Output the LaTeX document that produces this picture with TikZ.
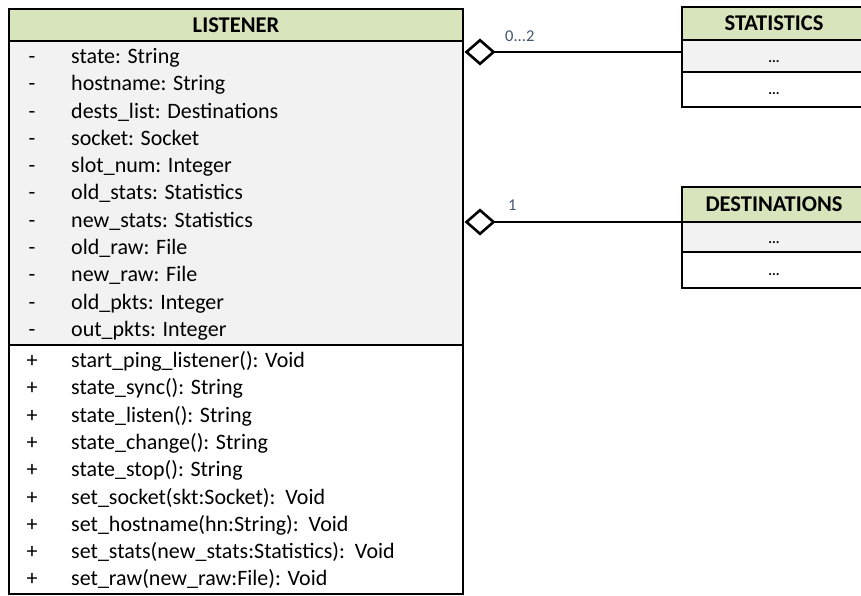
\documentclass[tikz,border=0pt]{standalone}
\usepackage{fontspec}
\setmainfont{Carlito}
\usetikzlibrary{arrows.meta}
\definecolor{hdrgreen}{HTML}{D8E4BC}
\definecolor{attrgray}{HTML}{F2F2F2}
\definecolor{multcol}{HTML}{44546A}
\begin{document}
\begin{tikzpicture}[x=1pt,y=-1pt,
  box/.style={draw=black, line width=2pt, anchor=north west, inner sep=0pt, outer sep=0pt},
  hdr/.style={box, fill=hdrgreen, font=\fontsize{22.5}{26}\selectfont\bfseries},
  attrs/.style={box, fill=attrgray},
  ops/.style={box, fill=white},
  member/.style={font=\fontsize{22}{26}\selectfont, anchor=base west, inner sep=0pt},
  vis/.style={font=\fontsize{22}{26}\selectfont, anchor=base, inner sep=0pt},
  dots/.style={font=\fontsize{14}{16}\selectfont\bfseries, anchor=base, inner sep=0pt},
  mult/.style={font=\fontsize{16.5}{18}\selectfont, text=multcol, anchor=base west, inner sep=0pt},
  agg/.style={line width=2.6pt, {Diamond[open, length=31pt, width=27pt]}-}
]
\useasboundingbox (0,0) rectangle (861,596);
\clip (0,0) rectangle (861,596);

% LISTENER class
\node[hdr, minimum width=454pt, minimum height=32pt] (lh) at (9,9) {LISTENER};
\node[attrs, minimum width=454pt, minimum height=304pt] (la) at (9,41) {};
\node[ops, minimum width=454pt, minimum height=249pt] (lm) at (9,345) {};

% attributes
\foreach \t [count=\i from 0] in {state: String, hostname: String,
    dests\_list: Destinations, socket: Socket, slot\_num: Integer,
    old\_stats: Statistics, new\_stats: Statistics, old\_raw: File,
    new\_raw: File, old\_pkts: Integer, out\_pkts: Integer} {
  \node[vis] (av\i) at (32, 63.5+27.3*\i) {-};
  \node[member] (at\i) at (71, 63.5+27.3*\i) {\t};
}

% operations
\foreach \t [count=\i from 0] in {start\_ping\_listener(): Void,
    state\_sync(): String, state\_listen(): String, state\_change(): String,
    state\_stop(): String, set\_socket(skt:Socket):\ \ Void,
    set\_hostname(hn:String):\ \ Void,
    set\_stats(new\_stats:Statistics):\ \ Void,
    set\_raw(new\_raw:File): Void} {
  \node[vis] (mv\i) at (32, 367.5+27.3*\i) {+};
  \node[member] (mt\i) at (71, 367.5+27.3*\i) {\t};
}

% STATISTICS class
\node[hdr, minimum width=184pt, minimum height=33pt] (sh) at (682,7) {STATISTICS};
\node[attrs, minimum width=184pt, minimum height=32pt] (sa) at (682,40) {};
\node[ops, minimum width=184pt, minimum height=35pt] (so) at (682,72) {};
\node[dots] (sad) at (774,63) {...};
\node[dots] (sod) at (774,95) {...};

% DESTINATIONS class
\node[hdr, minimum width=184pt, minimum height=35pt] (dh) at (682,187) {DESTINATIONS};
\node[attrs, minimum width=184pt, minimum height=30pt] (da) at (682,222) {};
\node[ops, minimum width=184pt, minimum height=36pt] (do) at (682,252) {};
\node[dots] (dad) at (774,243) {...};
\node[dots] (dod) at (774,275) {...};

% aggregations
\coordinate (y1) at (0,52);
\draw[agg] ([xshift=1.5pt]la.east |- y1) -- (sa.west |- y1);
\draw[agg] ([xshift=1.5pt]la.east |- dh.south west) -- (dh.south west);
\node[mult] (m1) at (505,42) {0...2};
\node[mult] (m2) at (508,210) {1};
\end{tikzpicture}
\end{document}
